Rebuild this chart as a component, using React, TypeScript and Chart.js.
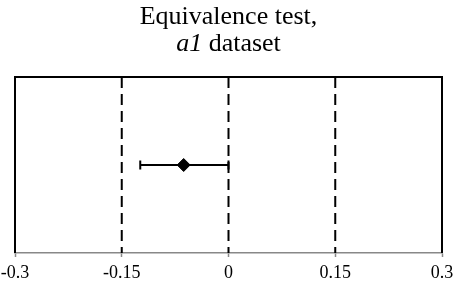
import { useEffect, useRef } from "react";
import { Chart, registerables } from "chart.js";

Chart.register(...registerables);

// ---- data ----
const titleLine1 = "Equivalence test,";
const titleLine2Italic = "a1";
const titleLine2Rest = " dataset";
const xTicks = [-0.3, -0.15, 0, 0.15, 0.3];
const referenceLines = [-0.15, 0, 0.15]; // equivalence bounds and null value
const meanDifference = [-0.063];
const ciLower = [-0.124];
const ciUpper = [0.0];
const rowPosition = 0.5;

const FONT = '"Liberation Serif", "Times New Roman", serif';

const titlePlugin = {
  id: "customTitle",
  afterDraw(chart: any) {
    const { ctx, chartArea } = chart;
    const cx = (chartArea.left + chartArea.right) / 2;
    ctx.save();
    ctx.fillStyle = "#000";
    ctx.textBaseline = "alphabetic";
    ctx.font = `26px ${FONT}`;
    ctx.textAlign = "center";
    ctx.fillText(titleLine1, cx, 24);
    ctx.textAlign = "left";
    ctx.font = `italic 26px ${FONT}`;
    const w1 = ctx.measureText(titleLine2Italic).width;
    ctx.font = `26px ${FONT}`;
    const w2 = ctx.measureText(titleLine2Rest).width;
    const start = cx - (w1 + w2) / 2;
    ctx.font = `italic 26px ${FONT}`;
    ctx.fillText(titleLine2Italic, start, 51);
    ctx.font = `26px ${FONT}`;
    ctx.fillText(titleLine2Rest, start + w1, 51);
    ctx.restore();
  },
};

const boxPlugin = {
  id: "boxFrame",
  afterDatasetsDraw(chart: any) {
    const { ctx, chartArea } = chart;
    ctx.save();
    ctx.strokeStyle = "#000";
    ctx.lineWidth = 2;
    ctx.beginPath();
    ctx.moveTo(chartArea.left, chartArea.bottom);
    ctx.lineTo(chartArea.left, chartArea.top);
    ctx.lineTo(chartArea.right, chartArea.top);
    ctx.lineTo(chartArea.right, chartArea.bottom);
    ctx.stroke();
    ctx.restore();
  },
};

export default function App() {
  const canvasRef = useRef<HTMLCanvasElement | null>(null);

  useEffect(() => {
    if (!canvasRef.current) return;

    const refDatasets = referenceLines.map((v) => ({
      type: "line" as const,
      data: [
        { x: v, y: 1 },
        { x: v, y: 0 },
      ],
      borderColor: "#000",
      borderWidth: 2,
      borderDash: [11, 6],
      pointRadius: 0,
      fill: false,
    }));

    const chart = new Chart(canvasRef.current, {
      type: "scatter",
      data: {
        datasets: [
          {
            type: "scatter",
            data: [{ x: meanDifference[0], y: rowPosition }],
            pointStyle: "rectRot",
            pointRadius: 6.5,
            pointBackgroundColor: "#000",
            pointBorderColor: "#000",
            pointBorderWidth: 1,
          },
          {
            type: "line",
            data: [
              { x: ciLower[0], y: rowPosition },
              { x: ciUpper[0], y: rowPosition },
            ],
            borderColor: "#000",
            borderWidth: 2,
            pointStyle: "line",
            pointRadius: 4.5,
            pointRotation: 90,
            pointBorderWidth: 2,
            pointBorderColor: "#000",
            fill: false,
          },
          ...refDatasets,
        ] as any,
      },
      options: {
        animation: false,
        responsive: true,
        maintainAspectRatio: false,
        layout: { padding: { left: 15, right: 12, top: 77, bottom: 0 } },
        plugins: {
          legend: { display: false },
          title: { display: false },
          tooltip: { enabled: false },
        },
        scales: {
          x: {
            type: "linear",
            min: -0.3,
            max: 0.3,
            afterBuildTicks(scale: any) {
              scale.ticks = xTicks.map((v) => ({ value: v }));
            },
            afterFit(scale: any) {
              scale.paddingLeft = 0;
              scale.paddingRight = 0;
              scale.paddingTop = 0;
              scale.paddingBottom = 0;
              scale.height = 29;
            },
            ticks: {
              color: "#000",
              padding: 5,
              maxRotation: 0,
              font: { family: FONT, size: 18 },
              callback: (v: any) => String(Number(Number(v).toFixed(2))),
            },
            grid: {
              drawOnChartArea: false,
              drawTicks: true,
              tickLength: 4,
              tickColor: "#888",
              tickWidth: 1.5,
            },
            border: { color: "#888", width: 1.5 },
          },
          y: {
            type: "linear",
            min: 0,
            max: 1,
            display: false,
          },
        },
      },
      plugins: [titlePlugin, boxPlugin],
    });

    return () => chart.destroy();
  }, []);

  return (
    <div style={{ position: "fixed", left: 0, top: 0, width: 454, height: 282, background: "#fff" }}>
      <canvas ref={canvasRef} />
    </div>
  );
}
